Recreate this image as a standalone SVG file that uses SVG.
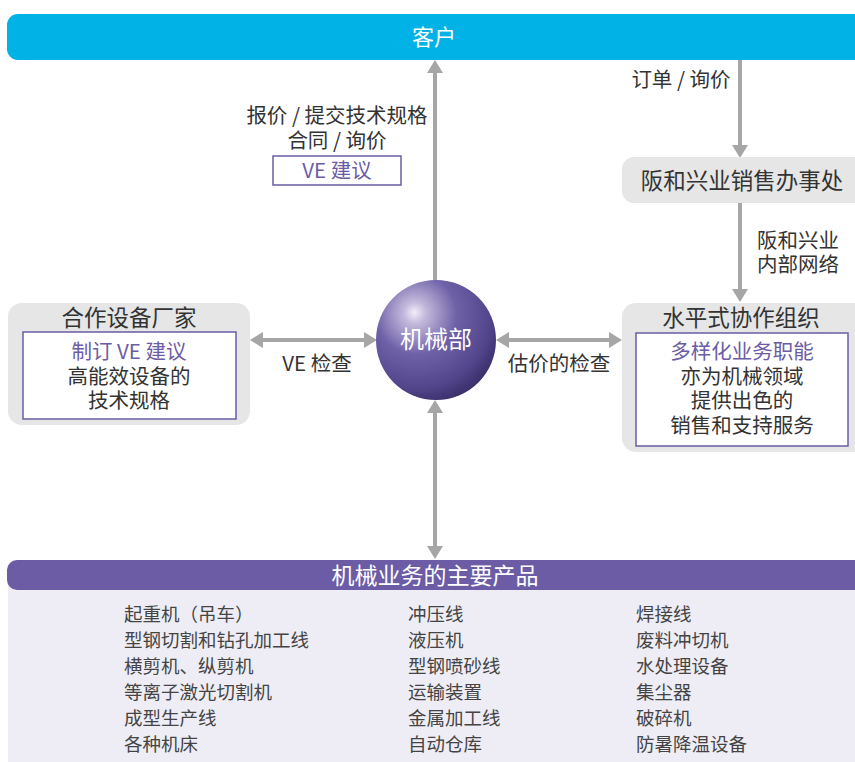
<svg xmlns="http://www.w3.org/2000/svg" width="855" height="762" viewBox="0 0 855 762">
<defs>
<radialGradient id="sph" cx="0.35" cy="0.3" r="0.75" fx="0.32" fy="0.27">
<stop offset="0" stop-color="#f2eef8"/>
<stop offset="0.12" stop-color="#c3badc"/>
<stop offset="0.45" stop-color="#6f61a8"/>
<stop offset="0.8" stop-color="#54468c"/>
<stop offset="1" stop-color="#3a2e6a"/>
</radialGradient>
<style>
.t{font-family:"Noto Sans CJK SC","Liberation Sans",sans-serif;fill:#333;text-anchor:middle}
.l{font-family:"Noto Sans CJK SC","Liberation Sans",sans-serif;fill:#444;font-size:18.5px}
.p{fill:#6b5ca5}
.w{fill:#fff}
.ln{stroke:#a6a6a6;stroke-width:4;fill:none}
.ah{fill:#a6a6a6}
.grey{fill:#e6e6e6}
.ib{fill:#fff;stroke:#6b5ca5;stroke-width:1.5}
</style>
</defs>

<g id="customer">
<rect x="7" y="14" width="860" height="46" rx="11" fill="#00b2e6"/>
<text class="t w" x="434" y="45" font-size="22">客户</text>
</g>

<g id="connectors">
<line class="ln" x1="435" y1="72" x2="435" y2="282"/>
<polygon class="ah" points="435,60 427,73 443,73"/>
<line class="ln" x1="435" y1="410" x2="435" y2="548"/>
<polygon class="ah" points="435,400 427,413 443,413"/>
<polygon class="ah" points="435,559 427,546 443,546"/>
<line class="ln" x1="740" y1="60" x2="740" y2="146"/>
<polygon class="ah" points="740,158 732,145 748,145"/>
<line class="ln" x1="740" y1="203" x2="740" y2="290"/>
<polygon class="ah" points="740,302 732,289 748,289"/>
<line class="ln" x1="262" y1="340" x2="365" y2="340"/>
<polygon class="ah" points="250,340 263,332 263,348"/>
<polygon class="ah" points="377,340 364,332 364,348"/>
<line class="ln" x1="508" y1="340" x2="610" y2="340"/>
<polygon class="ah" points="496,340 509,332 509,348"/>
<polygon class="ah" points="622,340 609,332 609,348"/>
<text class="t" x="337" y="123" font-size="20.5"><tspan x="337">报价 / 提交技术规格</tspan><tspan x="337" dy="25">合同 / 询价</tspan></text>
<rect x="273" y="156" width="128" height="29" fill="#fff" stroke="#6b5ca5" stroke-width="1.5"/>
<text class="t p" x="337" y="178" font-size="20.5">VE 建议</text>
<text class="t" x="681" y="87" font-size="20.5">订单 / 询价</text>
<text class="t" x="798" y="248" font-size="20.5"><tspan x="798">阪和兴业</tspan><tspan x="798" dy="24">内部网络</tspan></text>
<text class="t" x="317" y="371" font-size="20.5">VE 检查</text>
<text class="t" x="559" y="371" font-size="20.5">估价的检查</text>
</g>

<g id="sales-office">
<rect class="grey" x="622" y="157" width="250" height="46" rx="12"/>
<text class="t" x="742" y="189" font-size="22.5" fill="#222">阪和兴业销售办事处</text>
</g>

<g id="horizontal-org">
<rect class="grey" x="622" y="303" width="250" height="149" rx="14"/>
<text class="t" x="741" y="326" font-size="22.5" fill="#222">水平式协作组织</text>
<rect class="ib" x="636" y="333" width="212" height="113"/>
<text class="t" x="742" y="359" font-size="20.5"><tspan x="742" class="p">多样化业务职能</tspan><tspan x="742" dy="24.5">亦为机械领域</tspan><tspan x="742" dy="24.5">提供出色的</tspan><tspan x="742" dy="24.5">销售和支持服务</tspan></text>
</g>

<g id="partner">
<rect class="grey" x="8" y="303" width="242" height="122" rx="14"/>
<text class="t" x="129" y="326" font-size="22.5" fill="#222">合作设备厂家</text>
<rect class="ib" x="23" y="332" width="213" height="87"/>
<text class="t" x="129" y="359" font-size="20.5"><tspan x="129" class="p">制订 VE 建议</tspan><tspan x="129" dy="24.5">高能效设备的</tspan><tspan x="129" dy="24.5">技术规格</tspan></text>
</g>

<g id="machinery">
<circle cx="436" cy="340" r="60" fill="url(#sph)"/>
<text class="t w" x="436" y="348" font-size="24">机械部</text>
</g>

<g id="products">
<rect x="8" y="575" width="860" height="200" fill="#eeedf5"/>
<rect x="7" y="560" width="860" height="30" rx="10" fill="#6b5ca5"/>
<text class="t w" x="435" y="584" font-size="23">机械业务的主要产品</text>
<text class="l" x="124" y="621"><tspan x="124">起重机（吊车）</tspan><tspan x="124" dy="26">型钢切割和钻孔加工线</tspan><tspan x="124" dy="26">横剪机、纵剪机</tspan><tspan x="124" dy="26">等离子激光切割机</tspan><tspan x="124" dy="26">成型生产线</tspan><tspan x="124" dy="26">各种机床</tspan></text>
<text class="l" x="408" y="621"><tspan x="408">冲压线</tspan><tspan x="408" dy="26">液压机</tspan><tspan x="408" dy="26">型钢喷砂线</tspan><tspan x="408" dy="26">运输装置</tspan><tspan x="408" dy="26">金属加工线</tspan><tspan x="408" dy="26">自动仓库</tspan></text>
<text class="l" x="636" y="621"><tspan x="636">焊接线</tspan><tspan x="636" dy="26">废料冲切机</tspan><tspan x="636" dy="26">水处理设备</tspan><tspan x="636" dy="26">集尘器</tspan><tspan x="636" dy="26">破碎机</tspan><tspan x="636" dy="26">防暑降温设备</tspan></text>
</g>
</svg>
